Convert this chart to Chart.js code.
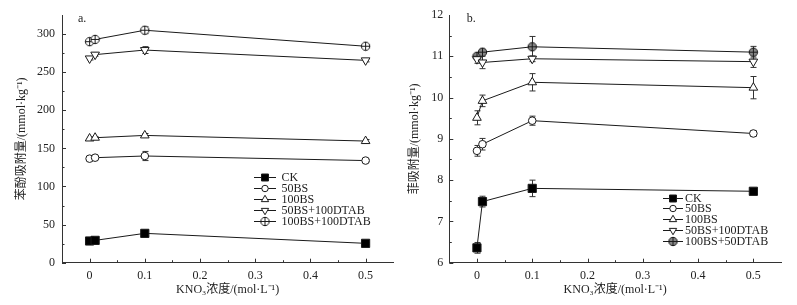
<!DOCTYPE html>
<html>
<head>
<meta charset="utf-8">
<script src="https://cdn.jsdelivr.net/npm/chart.js@4.4.1/dist/chart.umd.min.js"></script>
<style>
  body { margin: 0; background: #fff; width: 797px; height: 305px; position: relative; overflow: hidden; }
  canvas { position: absolute; top: 0; }
  #chartA { left: 0; }
  #chartB { left: 400px; }
</style>
</head>
<body>
<canvas id="chartA" width="400" height="305"></canvas>
<canvas id="chartB" width="397" height="305"></canvas>
<script>
// KNO3 concentration (mol/L)
var kno3 = [0, 0.01, 0.1, 0.5];
var xTicks = [0, 0.1, 0.2, 0.3, 0.4, 0.5];
var xTickLabels = ['0', '0.1', '0.2', '0.3', '0.4', '0.5'];

// a. phenol adsorption (mmol/kg)
var namesA = ['CK', '50BS', '100BS', '50BS+100DTAB', '100BS+100DTAB'];
var phenolCK = [28.5, 29.3, 38.5, 25.4];
var phenol50BS = [136.5, 137.8, 140, 134];
var phenol100BS = [163, 164, 167, 159.6];
var phenol50BS100DTAB = [268, 273, 279, 265.5];
var phenol100BS100DTAB = [290, 293, 305, 284];
var errPhenolCK = [1.2, 1.2, 4, 1.2];
var errPhenol50BS = [1.5, 1.5, 6, 1.5];
var errPhenol100BS = [1.5, 1.5, 2.5, 2];
var errPhenol50BS100DTAB = [2, 2, 4.5, 2];
var errPhenol100BS100DTAB = [2, 2, 4.5, 2];
var yTicksA = [0, 50, 100, 150, 200, 250, 300];

// b. phenanthrene adsorption (mmol/kg)
var namesB = ['CK', '50BS', '100BS', '50BS+100DTAB', '100BS+50DTAB'];
var phenCK = [6.36, 7.48, 7.80, 7.73];
var phen50BS = [8.71, 8.87, 9.44, 9.13];
var phen100BS = [9.51, 9.92, 10.37, 10.24];
var phen50BS100DTAB = [10.93, 10.85, 10.94, 10.87];
var phen100BS50DTAB = [11.0, 11.10, 11.23, 11.10];
var errPhenCK = [0.13, 0.13, 0.2, 0.04];
var errPhen50BS = [0.13, 0.14, 0.11, 0.07];
var errPhen100BS = [0.17, 0.14, 0.21, 0.27];
var errPhen50BS100DTAB = [0.1, 0.15, 0.07, 0.14];
var errPhen100BS50DTAB = [0.05, 0.07, 0.25, 0.14];
var yTicksB = [6, 7, 8, 9, 10, 11, 12];

var serif = "'Liberation Serif', 'Noto Sans CJK SC', serif";
var ink = '#1a1a1a';

// circle with a cross, for the last series
function circlePlus(fill) {
  var c = document.createElement('canvas');
  c.width = 11; c.height = 11;
  var g = c.getContext('2d');
  g.strokeStyle = ink; g.lineWidth = 1; g.fillStyle = fill;
  g.beginPath(); g.arc(5.5, 5.5, 4.2, 0, Math.PI * 2); g.fill(); g.stroke();
  g.beginPath();
  g.moveTo(1, 5.5); g.lineTo(10, 5.5);
  g.moveTo(5.5, 1); g.lineTo(5.5, 10);
  g.stroke();
  return c;
}

var markers = [
  { style: 'rect', radius: 5.8, rotation: 0, fill: '#000' },
  { style: 'circle', radius: 3.8, rotation: 0, fill: '#fff' },
  { style: 'triangle', radius: 5, rotation: 0, fill: '#fff' },
  { style: 'triangle', radius: 5, rotation: 180, fill: '#fff' },
  { style: null, radius: 4, rotation: 0, fill: '#fff' }
];

function makeDatasets(names, values, errs, lastStyle) {
  return names.map(function (name, i) {
    var m = markers[i];
    return {
      label: name,
      data: kno3.map(function (x, j) { return { x: x, y: values[i][j] }; }),
      errors: errs[i],
      borderColor: ink,
      borderWidth: 1,
      pointStyle: i === 4 ? lastStyle : m.style,
      pointRadius: m.radius,
      pointRotation: m.rotation,
      pointBackgroundColor: m.fill,
      pointBorderColor: ink,
      pointBorderWidth: 1,
      tension: 0
    };
  });
}

// vertical error bars with caps
var errorBars = {
  id: 'errorBars',
  beforeDatasetsDraw: function (chart) {
    var ctx = chart.ctx, xs = chart.scales.x, ys = chart.scales.y;
    ctx.save();
    ctx.strokeStyle = '#333';
    ctx.lineWidth = 1;
    chart.data.datasets.forEach(function (ds) {
      ds.data.forEach(function (p, j) {
        var e = ds.errors[j];
        var px = Math.round(xs.getPixelForValue(p.x)) + 0.5;
        var y1 = ys.getPixelForValue(p.y + e), y2 = ys.getPixelForValue(p.y - e);
        ctx.beginPath();
        ctx.moveTo(px, y1); ctx.lineTo(px, y2);
        ctx.moveTo(px - 3, y1); ctx.lineTo(px + 3, y1);
        ctx.moveTo(px - 3, y2); ctx.lineTo(px + 3, y2);
        ctx.stroke();
      });
    });
    ctx.restore();
  }
};

// inward major/minor tick marks + panel letter
var axisMarks = {
  id: 'axisMarks',
  afterDraw: function (chart, args, opts) {
    var ctx = chart.ctx, a = chart.chartArea, xs = chart.scales.x, ys = chart.scales.y;
    ctx.save();
    ctx.strokeStyle = '#333';
    ctx.lineWidth = 1;
    ctx.beginPath();
    for (var v = 0; v <= 0.5001; v += 0.05) {
      var px = Math.round(xs.getPixelForValue(v)) + 0.5;
      var len = Math.round(v * 100) % 10 === 0 ? 4 : 2.5;
      ctx.moveTo(px, a.bottom); ctx.lineTo(px, a.bottom - len);
    }
    var step = opts.yStep / 2;
    for (var k = 0; ys.min + k * step < ys.max - 1e-9; k++) {
      var py = Math.round(ys.getPixelForValue(ys.min + k * step)) + 0.5;
      var l = k % 2 === 0 ? 4 : 2.5;
      ctx.moveTo(a.left, py); ctx.lineTo(a.left + l, py);
    }
    ctx.stroke();
    ctx.fillStyle = '#222';
    ctx.font = '12px ' + serif;
    ctx.textBaseline = 'middle';
    ctx.fillText(opts.letter, a.left + opts.letterDx, a.top + 4);
    ctx.restore();
  }
};

// legend drawn as line + marker + label
var lineLegend = {
  id: 'lineLegend',
  afterDraw: function (chart, args, opts) {
    var ctx = chart.ctx;
    ctx.save();
    ctx.font = '12px ' + serif;
    ctx.textBaseline = 'middle';
    chart.data.datasets.forEach(function (ds, i) {
      var y = Math.round(opts.y0 + i * opts.dy) + 0.5;
      ctx.strokeStyle = ink;
      ctx.lineWidth = 1;
      ctx.beginPath();
      ctx.moveTo(opts.x0, y); ctx.lineTo(opts.x1, y);
      ctx.stroke();
      ctx.fillStyle = ds.pointBackgroundColor;
      Chart.helpers.drawPoint(ctx, {
        pointStyle: ds.pointStyle,
        radius: ds.pointRadius * 0.85,
        rotation: ds.pointRotation,
        borderWidth: 1
      }, (opts.x0 + opts.x1) / 2, y);
      ctx.fillStyle = '#222';
      ctx.fillText(ds.label, opts.tx, y);
    });
    ctx.restore();
  }
};

function makeOptions(p) {
  return {
    responsive: false,
    animation: false,
    events: [],
    layout: { padding: { top: 15, right: p.padRight, left: 0, bottom: 0 } },
    plugins: {
      legend: { display: false },
      tooltip: { enabled: false },
      axisMarks: { letter: p.letter, letterDx: p.letterDx, yStep: p.yStep },
      lineLegend: p.legend
    },
    scales: {
      x: {
        type: 'linear',
        min: -0.05,
        max: 0.55,
        afterFit: function (s) { s.height = 42.3; },
        afterBuildTicks: function (s) { s.ticks = xTicks.map(function (v) { return { value: v }; }); },
        grid: { display: false, drawTicks: false },
        border: { display: true, color: '#333', width: 1 },
        ticks: {
          padding: 6,
          color: '#222',
          font: { family: serif, size: 12 },
          callback: function (v, i) { return xTickLabels[i]; }
        },
        title: {
          display: true,
          text: p.xTitle,
          color: '#222',
          font: { family: serif, size: 12 },
          padding: { top: 0, bottom: 8 }
        }
      },
      y: {
        min: p.yMin,
        max: p.yMax,
        afterFit: function (s) { s.width = p.yWidth; },
        afterBuildTicks: function (s) { s.ticks = p.yTicks.map(function (v) { return { value: v }; }); },
        grid: { display: false, drawTicks: false },
        border: { display: true, color: '#333', width: 1 },
        ticks: {
          padding: p.yPad,
          color: '#222',
          font: { family: serif, size: 12 },
          callback: function (v) { return String(v); }
        },
        title: {
          display: true,
          text: p.yTitle,
          color: '#222',
          font: { family: serif, size: 12 },
          padding: { top: p.yTitlePad, bottom: 0 }
        }
      }
    }
  };
}

var chartA = new Chart(document.getElementById('chartA'), {
  type: 'line',
  data: {
    datasets: makeDatasets(namesA,
      [phenolCK, phenol50BS, phenol100BS, phenol50BS100DTAB, phenol100BS100DTAB],
      [errPhenolCK, errPhenol50BS, errPhenol100BS, errPhenol50BS100DTAB, errPhenol100BS100DTAB],
      circlePlus('#fff'))
  },
  options: makeOptions({
    padRight: 3.3, yWidth: 62, yPad: 7, yTitlePad: 14.5,
    yMin: 0, yMax: 325, yTicks: yTicksA, yStep: 50,
    yTitle: '苯酚吸附量/(mmol·kg⁻¹)',
    xTitle: 'KNO₃浓度/(mol·L⁻¹)',
    letter: 'a.', letterDx: 16,
    legend: { x0: 254, x1: 276, tx: 281.5, y0: 177, dy: 11 }
  }),
  plugins: [errorBars, axisMarks, lineLegend]
});

var chartB = new Chart(document.getElementById('chartB'), {
  type: 'line',
  data: {
    datasets: makeDatasets(namesB,
      [phenCK, phen50BS, phen100BS, phen50BS100DTAB, phen100BS50DTAB],
      [errPhenCK, errPhen50BS, errPhen100BS, errPhen50BS100DTAB, errPhen100BS50DTAB],
      circlePlus('#888'))
  },
  options: makeOptions({
    padRight: 16, yWidth: 49.3, yPad: 6, yTitlePad: 8,
    yMin: 6, yMax: 12, yTicks: yTicksB, yStep: 1,
    yTitle: '菲吸附量/(mmol·kg⁻¹)',
    xTitle: 'KNO₃浓度/(mol·L⁻¹)',
    letter: 'b.', letterDx: 17.5,
    legend: { x0: 263, x1: 283, tx: 285, y0: 197.5, dy: 10.9 }
  }),
  plugins: [errorBars, axisMarks, lineLegend]
});
</script>
</body>
</html>
